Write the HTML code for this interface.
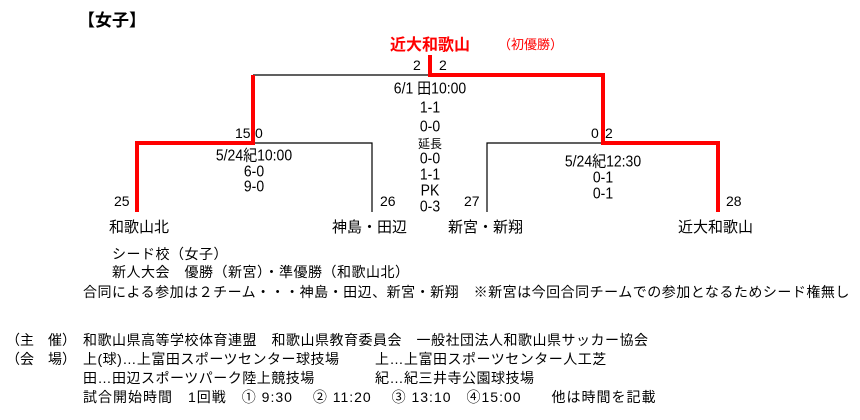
<!DOCTYPE html><html><head><meta charset="utf-8"><style>
body{margin:0;width:860px;height:420px;background:#fff;position:relative;overflow:hidden;font-family:"Liberation Sans","Noto Sans CJK JP",sans-serif;font-size:14px;color:#000}
.t{position:absolute;white-space:nowrap;line-height:16px}
.c{transform:translateX(-50%)}
.b{font-weight:bold}
.r{color:#f00}
.n{font-size:14px;transform:translateX(-50%) scaleY(1.1)}
.l{letter-spacing:0.5px}
</style></head><body>
<svg width="860" height="420" style="position:absolute;left:0;top:0">
<g stroke="#000" stroke-width="1.2" fill="none">
<path d="M253 75H430M253 143H372V212M487 212V143H603"/>
</g>
<g stroke="#f00" stroke-width="4" fill="none">
<path d="M430 55V75H603V143H718V212"/>
<path d="M253 75V143H137V212"/>
</g>
</svg>
<div class="t b" style="left:78px;top:11px;font-size:17px;line-height:20px">【女子】</div>
<div class="t b r" style="left:390px;top:36px;font-size:16px;line-height:20px">近大和歌山</div>
<div class="t r" style="left:498px;top:37px;font-size:13px">（初優勝）</div>
<div class="t" style="left:413px;top:57px">2</div>
<div class="t" style="left:439px;top:57px">2</div>
<div class="t n" style="left:430px;top:80px">6/1 田10:00</div>
<div class="t n" style="left:430px;top:99px">1-1</div>
<div class="t n" style="left:430px;top:118px">0-0</div>
<div class="t c" style="left:430px;top:136px;font-size:12px">延長</div>
<div class="t n" style="left:430px;top:150px">0-0</div>
<div class="t n" style="left:430px;top:166px">1-1</div>
<div class="t n" style="left:430px;top:182px">PK</div>
<div class="t n" style="left:430px;top:198px">0-3</div>
<div class="t" style="left:235px;top:125px">15</div>
<div class="t" style="left:255px;top:125px">0</div>
<div class="t n" style="left:254px;top:147px">5/24紀10:00</div>
<div class="t n" style="left:254px;top:163px">6-0</div>
<div class="t n" style="left:254px;top:178px">9-0</div>
<div class="t" style="left:591px;top:125px">0</div>
<div class="t" style="left:605px;top:125px">2</div>
<div class="t n" style="left:603px;top:153px">5/24紀12:30</div>
<div class="t n" style="left:603px;top:169px">0-1</div>
<div class="t n" style="left:603px;top:185px">0-1</div>
<div class="t" style="left:114px;top:193px">25</div>
<div class="t" style="left:380px;top:193px">26</div>
<div class="t" style="left:464px;top:193px">27</div>
<div class="t" style="left:726px;top:193px">28</div>
<div class="t" style="left:109px;top:219px;font-size:15px;line-height:18px">和歌山北</div>
<div class="t" style="left:332px;top:219px;font-size:15px;line-height:18px">神島・田辺</div>
<div class="t" style="left:448px;top:219px;font-size:15px;line-height:18px">新宮・新翔</div>
<div class="t" style="left:678px;top:219px;font-size:15px;line-height:18px">近大和歌山</div>
<div class="t l" style="left:112px;top:246px">シード校（女子）</div>
<div class="t l" style="left:112px;top:264px">新人大会　優勝（新宮）・準優勝（和歌山北）</div>
<div class="t l" style="left:83px;top:284px">合同による参加は２チーム・・・神島・田辺、新宮・新翔　※新宮は今回合同チームでの参加となるためシード権無し</div>
<div class="t" style="left:6px;top:332px">（主　催）</div>
<div class="t l" style="left:83px;top:332px">和歌山県高等学校体育連盟　和歌山県教育委員会　一般社団法人和歌山県サッカー協会</div>
<div class="t" style="left:6px;top:351px">（会　場）</div>
<div class="t l" style="left:83px;top:351px">上(球)…上富田スポーツセンター球技場</div>
<div class="t l" style="left:375px;top:351px">上…上富田スポーツセンター人工芝</div>
<div class="t l" style="left:83px;top:370px">田…田辺スポーツパーク陸上競技場</div>
<div class="t l" style="left:375px;top:370px">紀…紀三井寺公園球技場</div>
<div class="t" style="left:83px;top:389px;letter-spacing:1px">試合開始時間　1回戦　① 9:30　 ② 11:20　 ③ 13:10　④15:00　　他は時間を記載</div>
</body></html>
